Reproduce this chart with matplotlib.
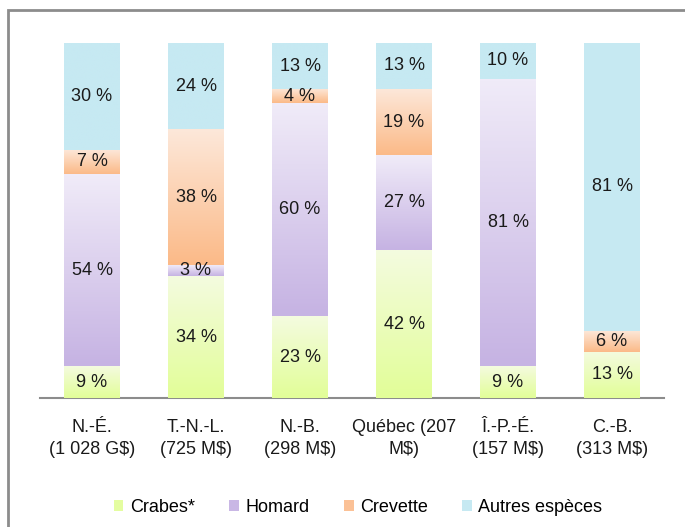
import matplotlib
matplotlib.use("Agg")
import matplotlib.pyplot as plt
import numpy as np
from matplotlib.patches import Rectangle
from matplotlib.colors import LinearSegmentedColormap
from matplotlib import font_manager

categories = ["N.-É.\n(1 028 G$)", "T.-N.-L.\n(725 M$)", "N.-B.\n(298 M$)",
              "Québec (207\nM$)", "Î.-P.-É.\n(157 M$)", "C.-B.\n(313 M$)"]
series_names = ["Crabes*", "Homard", "Crevette", "Autres espèces"]
crabes = [9, 34, 23, 42, 9, 13]
homard = [54, 3, 60, 27, 81, 0]
crevette = [7, 38, 4, 19, 0, 6]
autres = [30, 24, 13, 13, 10, 81]

fams = [f.name for f in font_manager.fontManager.ttflist]
narrow = "Liberation Sans Narrow" if "Liberation Sans Narrow" in fams else "Liberation Sans"
plt.rcParams['font.family'] = [narrow, 'DejaVu Sans']

# gradient colours: (top, bottom)
grads = [("#F4FBDF", "#E2FE98"), ("#F0EBF8", "#C6B3E3"),
         ("#FDE8DA", "#FBBA88"), ("#C6E9F2", "#C6E9F2")]
solid = ["#E4FDA0", "#C9B7E5", "#FBC196", "#C6E9F2"]

W, H = 685, 527
fig = plt.figure(figsize=(W / 100, H / 100), dpi=100)
ax = fig.add_axes([40 / W, 1 - 398 / H, 624 / W, 355 / H])

data = np.array([crabes, homard, crevette, autres], dtype=float)
totals = data.sum(axis=0)
pct = data / totals * 100
x = np.arange(len(categories))
bw = 0.53
bottom = np.zeros(len(categories))
for si in range(4):
    bars = ax.bar(x, pct[si], bw, bottom=bottom, color=solid[si],
                  label=series_names[si], zorder=2, linewidth=0)
    cmap = LinearSegmentedColormap.from_list("g", [grads[si][1], grads[si][0]])
    for bi, b in enumerate(bars):
        h = pct[si][bi]
        if h <= 0:
            continue
        x0 = b.get_x()
        y0 = b.get_y()
        grad = np.linspace(0, 1, 64).reshape(-1, 1)
        im = ax.imshow(grad, cmap=cmap, origin="lower", aspect="auto",
                       extent=[x0, x0 + bw, y0, y0 + h], zorder=3,
                       interpolation="bilinear")
        im.set_clip_path(b)
        ax.text(x[bi], y0 + h / 2, f"{data[si][bi]:.0f} %", ha="center",
                va="center", fontsize=13, color="#1a1a1a", zorder=5)
    bottom += pct[si]

ax.set_xlim(-0.5, len(categories) - 0.5)
ax.set_ylim(0, 100)
for s in ["top", "right", "left"]:
    ax.spines[s].set_visible(False)
ax.spines["bottom"].set_color("#8c8c8c")
ax.spines["bottom"].set_linewidth(1.5)
ax.set_yticks([])
ax.set_xticks(x)
ax.set_xticklabels(categories, fontsize=13, color="#1a1a1a", linespacing=1.4)
ax.tick_params(axis="x", length=0, pad=15)

leg = fig.legend(loc="center", bbox_to_anchor=(358 / W, 1 - 507 / H), ncol=4,
                 frameon=False, fontsize=13, handlelength=0.55, handleheight=0.55,
                 handletextpad=0.35, columnspacing=1.9)

fig.patches.append(Rectangle((8 / W, -0.1), 1.2, 1 - 10 / H + 0.1,
                             transform=fig.transFigure, fill=False,
                             edgecolor="#8c8c8c", linewidth=2))

fig.savefig("out.png", dpi=100)
